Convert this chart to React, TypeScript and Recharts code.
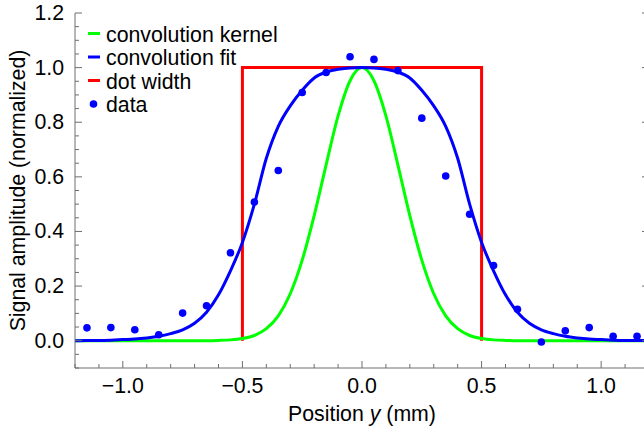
import React from 'react';
import { ComposedChart, Line, XAxis, YAxis } from 'recharts';

// ---------- data ----------
const curveX = [
  -1.2, -1.15, -1.1, -1.05, -1.0, -0.95, -0.9, -0.85, -0.8, -0.75, -0.7, -0.65,
  -0.6, -0.55, -0.5, -0.45, -0.4, -0.35, -0.3, -0.25, -0.2, -0.15, -0.1, -0.05,
  0,
  0.05, 0.1, 0.15, 0.2, 0.25, 0.3, 0.35, 0.4, 0.45, 0.5, 0.55, 0.6,
  0.65, 0.7, 0.75, 0.8, 0.85, 0.9, 0.95, 1.0, 1.05, 1.1, 1.15, 1.2,
];
const kernelY = [
  0, 0, 0, 0, 0, 0, 0, 0, 0, 0, 0, 0,
  0.001, 0.003, 0.008, 0.019, 0.044, 0.091, 0.172, 0.295, 0.458, 0.644, 0.823, 0.952,
  1.0,
  0.952, 0.823, 0.644, 0.458, 0.295, 0.172, 0.091, 0.044, 0.019, 0.008, 0.003, 0.001,
  0, 0, 0, 0, 0, 0, 0, 0, 0, 0, 0, 0,
];
const fitY = [
  0.0, 0.001, 0.001, 0.002, 0.004, 0.006, 0.01, 0.016, 0.026, 0.04, 0.064, 0.104,
  0.168, 0.256, 0.36, 0.5, 0.668, 0.785, 0.86, 0.917, 0.962, 0.984, 0.994, 0.999,
  1.0,
  0.999, 0.994, 0.984, 0.962, 0.917, 0.86, 0.785, 0.668, 0.5, 0.36, 0.256, 0.168,
  0.104, 0.064, 0.04, 0.026, 0.016, 0.01, 0.006, 0.004, 0.002, 0.001, 0.001, 0.0,
];
const dotWidthX = [-0.5, -0.5, 0.5, 0.5];
const dotWidthY = [0, 1, 1, 0];
const dataX = [
  -1.15, -1.05, -0.95, -0.85, -0.75, -0.65, -0.55, -0.45, -0.35, -0.25, -0.15, -0.05,
  0.05, 0.15, 0.25, 0.35, 0.45, 0.55, 0.65, 0.75, 0.85, 0.95, 1.05, 1.15,
];
const dataY = [
  0.047, 0.048, 0.04, 0.022, 0.101, 0.128, 0.322, 0.508, 0.623, 0.909, 0.982, 1.04,
  1.03, 0.989, 0.815, 0.603, 0.463, 0.275, 0.115, -0.005, 0.036, 0.048, 0.016, 0.016,
];

const xTicks = [
  -1.2, -1.1, -1.0, -0.9, -0.8, -0.7, -0.6, -0.5, -0.4, -0.3, -0.2, -0.1, 0,
  0.1, 0.2, 0.3, 0.4, 0.5, 0.6, 0.7, 0.8, 0.9, 1.0, 1.1, 1.2,
];
const xMajorTicks = [-1.0, -0.5, 0, 0.5, 1.0];
const xTickLabels = ['\u22121.0', '\u22120.5', '0.0', '0.5', '1.0'];
const yTicks = [
  -0.1, -0.05, 0, 0.05, 0.1, 0.15, 0.2, 0.25, 0.3, 0.35, 0.4, 0.45, 0.5, 0.55,
  0.6, 0.65, 0.7, 0.75, 0.8, 0.85, 0.9, 0.95, 1.0, 1.05, 1.1, 1.15, 1.2,
];
const yMajorTicks = [0, 0.2, 0.4, 0.6, 0.8, 1.0, 1.2];
const yTickLabels = ['0.0', '0.2', '0.4', '0.6', '0.8', '1.0', '1.2'];

const legendNames = ['convolution kernel', 'convolution fit', 'dot width', 'data'];

// ---------- derived tables ----------
const kernelData = curveX.map((x, i) => ({ x, y: kernelY[i] }));
const fitData = curveX.map((x, i) => ({ x, y: fitY[i] }));
const dotWidthData = dotWidthX.map((x, i) => ({ x, y: dotWidthY[i] }));
const pointData = dataX.map((x, i) => ({ x, y: dataY[i] }));

// ---------- styles ----------
const FONT = '"Liberation Sans", Arial, Helvetica, sans-serif';
const FS = 21.3;
const AXIS = '#6e6e6e';
const GREEN = '#00ff00';
const BLUE = '#0000ff';
const RED = '#ff0000';
const MAJOR = 7;
const MINOR = 4;

const idx = (list: number[], v: number) => list.findIndex((m) => Math.abs(m - v) < 1e-6);

const BottomTick = (props: any) => {
  const { x, y, payload } = props;
  const i = idx(xMajorTicks, payload.value);
  const len = i >= 0 ? MAJOR : MINOR;
  return (
    <g>
      <line x1={x} x2={x} y1={y} y2={y - len} stroke={AXIS} strokeWidth={1} />
      {i >= 0 && (
        <text x={x} y={y + 18} textAnchor="middle" dominantBaseline="central" fontFamily={FONT} fontSize={FS} fill="#000">
          {xTickLabels[i]}
        </text>
      )}
    </g>
  );
};
const TopTick = (props: any) => {
  const { x, y, payload } = props;
  const len = idx(xMajorTicks, payload.value) >= 0 ? MAJOR : MINOR;
  return <line x1={x} x2={x} y1={y} y2={y + len} stroke={AXIS} strokeWidth={1} />;
};
const LeftTick = (props: any) => {
  const { x, y, payload } = props;
  const i = idx(yMajorTicks, payload.value);
  const len = i >= 0 ? MAJOR : MINOR;
  return (
    <g>
      <line x1={x} x2={x + len} y1={y} y2={y} stroke={AXIS} strokeWidth={1} />
      {i >= 0 && (
        <text x={x - 11} y={y} textAnchor="end" dominantBaseline="central" fontFamily={FONT} fontSize={FS} fill="#000">
          {yTickLabels[i]}
        </text>
      )}
    </g>
  );
};
const RightTick = (props: any) => {
  const { x, y, payload } = props;
  const len = idx(yMajorTicks, payload.value) >= 0 ? MAJOR : MINOR;
  return <line x1={x} x2={x - len} y1={y} y2={y} stroke={AXIS} strokeWidth={1} />;
};

const XTitle = (props: any) => {
  const vb = props.viewBox || { x: 75, width: 574, y: 368 };
  return (
    <text x={vb.x + vb.width / 2} y={421} textAnchor="middle" fontFamily={FONT} fontSize={FS} fill="#000">
      Position <tspan fontStyle="italic">y</tspan> (mm)
    </text>
  );
};
const YTitle = (props: any) => {
  const vb = props.viewBox || { y: 13, height: 355 };
  const cy = vb.y + vb.height / 2;
  return (
    <text x={18} y={cy} transform={`rotate(-90 18 ${cy})`} textAnchor="middle" dominantBaseline="central" fontFamily={FONT} fontSize={FS} fill="#000">
      Signal amplitude (normalized)
    </text>
  );
};

const LegendOverlay = () => {
  const rows = [33.5, 57, 80.5, 104];
  const colors = [GREEN, BLUE, RED, BLUE];
  return (
    <svg width={300} height={125} style={{ position: 'absolute', left: 0, top: 0, pointerEvents: 'none' }}>
      {legendNames.map((name, i) => (
        <g key={name}>
          {i < 3 ? (
            <line x1={88} x2={100} y1={rows[i]} y2={rows[i]} stroke={colors[i]} strokeWidth={3} />
          ) : (
            <circle cx={93.5} cy={rows[i]} r={3.8} fill={colors[i]} />
          )}
          <text x={106} y={rows[i] + 1} dominantBaseline="central" fontFamily={FONT} fontSize={FS} fill="#000">
            {name}
          </text>
        </g>
      ))}
    </svg>
  );
};

export default function App() {
  return (
    <div style={{ position: 'absolute', left: 0, top: 0, width: 644, height: 427, overflow: 'hidden', background: '#fff' }}>
      <ComposedChart width={660} height={427} margin={{ top: 13, right: 0, bottom: 29, left: 0 }}>
        <XAxis
          xAxisId="bottom"
          dataKey="x"
          type="number"
          domain={[-1.2, 1.2]}
          allowDataOverflow
          ticks={xTicks}
          interval={0}
          height={30}
          tickSize={0}
          tickMargin={0}
          tickLine={false}
          axisLine={{ stroke: AXIS, strokeWidth: 1 }}
          tick={<BottomTick />}
          label={<XTitle />}
        />
        <XAxis
          xAxisId="top"
          orientation="top"
          dataKey="x"
          type="number"
          domain={[-1.2, 1.2]}
          allowDataOverflow
          ticks={xTicks}
          interval={0}
          height={0}
          tickSize={0}
          tickMargin={0}
          tickLine={false}
          axisLine={{ stroke: AXIS, strokeWidth: 1 }}
          tick={<TopTick />}
        />
        <YAxis
          yAxisId="left"
          type="number"
          domain={[-0.1, 1.2]}
          allowDataOverflow
          ticks={yTicks}
          interval={0}
          width={75}
          tickSize={0}
          tickMargin={0}
          tickLine={false}
          axisLine={{ stroke: AXIS, strokeWidth: 1 }}
          tick={<LeftTick />}
          label={<YTitle />}
        />
        <YAxis
          yAxisId="right"
          orientation="right"
          type="number"
          domain={[-0.1, 1.2]}
          allowDataOverflow
          ticks={yTicks}
          interval={0}
          width={11}
          tickSize={0}
          tickMargin={0}
          tickLine={false}
          axisLine={{ stroke: AXIS, strokeWidth: 1 }}
          tick={<RightTick />}
        />
        <Line
          xAxisId="bottom"
          yAxisId="left"
          data={dotWidthData}
          dataKey="y"
          type="linear"
          stroke={RED}
          strokeWidth={3}
          dot={false}
          activeDot={false}
          isAnimationActive={false}
        />
        <Line
          xAxisId="bottom"
          yAxisId="left"
          data={kernelData}
          dataKey="y"
          type="monotone"
          stroke={GREEN}
          strokeWidth={3}
          dot={false}
          activeDot={false}
          isAnimationActive={false}
        />
        <Line
          xAxisId="bottom"
          yAxisId="left"
          data={fitData}
          dataKey="y"
          type="monotone"
          stroke={BLUE}
          strokeWidth={3}
          dot={false}
          activeDot={false}
          isAnimationActive={false}
        />
        <Line
          xAxisId="bottom"
          yAxisId="left"
          data={pointData}
          dataKey="y"
          type="linear"
          stroke="none"
          strokeWidth={0}
          dot={{ r: 3.8, fill: BLUE, stroke: 'none' }}
          activeDot={false}
          isAnimationActive={false}
        />
      </ComposedChart>
      <LegendOverlay />
    </div>
  );
}
